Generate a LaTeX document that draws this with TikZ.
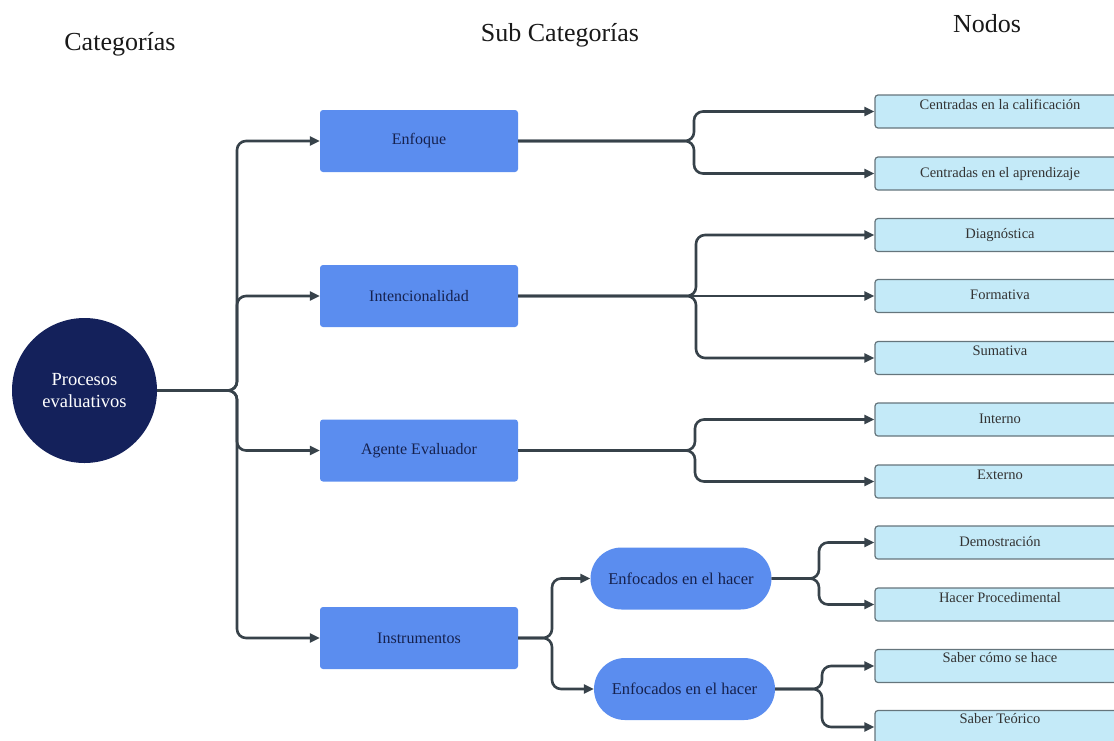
\documentclass[tikz,border=0pt]{standalone}
\usepackage{fontspec}
\setmainfont{Liberation Serif}[Ligatures=TeX]
\usetikzlibrary{arrows.meta}
\definecolor{navy}{HTML}{14215B}
\definecolor{catblue}{HTML}{5B8DEF}
\definecolor{cattext}{HTML}{16224F}
\definecolor{leaffill}{HTML}{C4EAF8}
\definecolor{leafedge}{HTML}{65757C}
\definecolor{linecol}{HTML}{37424A}
\begin{document}
\begin{tikzpicture}[x=1pt,y=-1pt,
  title/.style={anchor=base,text=black!90,font=\rmfamily\fontsize{26}{30}\selectfont},
  rootnode/.style={circle,fill=navy,minimum size=145pt,inner sep=0pt,text=white,align=center,
    font=\rmfamily\fontsize{18.5}{22}\selectfont},
  catbox/.style={rectangle,rounded corners=3pt,fill=catblue,minimum width=198pt,minimum height=62pt,
    text=cattext,font=\rmfamily\fontsize{16}{19}\selectfont},
  pill/.style={rectangle,rounded corners=31pt,fill=catblue,minimum width=181pt,minimum height=62pt,
    text=cattext,font=\rmfamily\fontsize{16.5}{19}\selectfont},
  leaf/.style={rectangle,rounded corners=3pt,fill=leaffill,draw=leafedge,line width=1.2pt,
    minimum width=250pt,minimum height=33pt,text height=10pt,text depth=3pt,text=black!80,
    font=\rmfamily\fontsize{14.5}{17}\selectfont},
  conn/.style={draw=linecol,line width=2.6pt,rounded corners=9pt,
    -{Triangle[length=10pt,width=9pt]}}]
\useasboundingbox (0,0) rectangle (1114,740);
\clip (0,0) rectangle (1114,740);

% column headings
\node[title] (hcat) at (120,50) {Categorías};
\node[title] (hsub) at (560,41) {Sub Categorías};
\node[title] (hnod) at (987,32) {Nodos};

% root
\node[rootnode] (root) at (84.5,390.5) {Procesos\\evaluativos};

% sub categories
\node[catbox] (enf) at (419,141) {Enfoque};
\node[catbox] (int) at (419,296) {Intencionalidad};
\node[catbox] (age) at (419,450.5) {Agente Evaluador};
\node[catbox] (ins) at (419,638) {Instrumentos};
\node[pill] (p1) at (681,578.5) {Enfocados en el hacer};
\node[pill] (p2) at (684.5,689) {Enfocados en el hacer};

% leaves
\node[leaf] (l1) at (1000,111.5) {\raisebox{6pt}{Centradas en la calificación}};
\node[leaf] (l2) at (1000,173.5) {Centradas en el aprendizaje};
\node[leaf] (l3) at (1000,235) {Diagnóstica};
\node[leaf] (l4) at (1000,296) {Formativa};
\node[leaf] (l5) at (1000,358) {\raisebox{6pt}{Sumativa}};
\node[leaf] (l6) at (1000,419.5) {Interno};
\node[leaf] (l7) at (1000,481.5) {\raisebox{6pt}{Externo}};
\node[leaf] (l8) at (1000,542.5) {Demostración};
\node[leaf] (l9) at (1000,604.5) {\raisebox{6pt}{Hacer Procedimental}};
\node[leaf] (l10) at (1000,666) {\raisebox{7pt}{Saber cómo se hace}};
\node[leaf] (l11) at (1000,727) {\raisebox{7pt}{Saber Teórico}};

% junction points
\coordinate (jr) at (237,390.5);
\coordinate (je) at (694,141);
\coordinate (ji) at (696,296);
\coordinate (ja) at (695,450.5);
\coordinate (jn) at (552,638);
\coordinate (jp1) at (819,578.5);
\coordinate (jp2) at (822,689);

% connectors
\foreach \t in {enf,int,age,ins} \draw[conn] (root.east) -- (jr) |- (\t.west);
\foreach \t in {l1,l2} \draw[conn] (enf.east) -- (je) |- (\t.west);
\foreach \t in {l3,l5} \draw[conn] (int.east) -- (ji) |- (\t.west);
\draw[conn] (int.east) -- (l4.west);
\foreach \t in {l6,l7} \draw[conn] (age.east) -- (ja) |- (\t.west);
\foreach \t in {p1,p2} \draw[conn] (ins.east) -- (jn) |- (\t.west);
\foreach \t in {l8,l9} \draw[conn] (p1.east) -- (jp1) |- (\t.west);
\foreach \t in {l10,l11} \draw[conn] (p2.east) -- (jp2) |- (\t.west);
\end{tikzpicture}
\end{document}
